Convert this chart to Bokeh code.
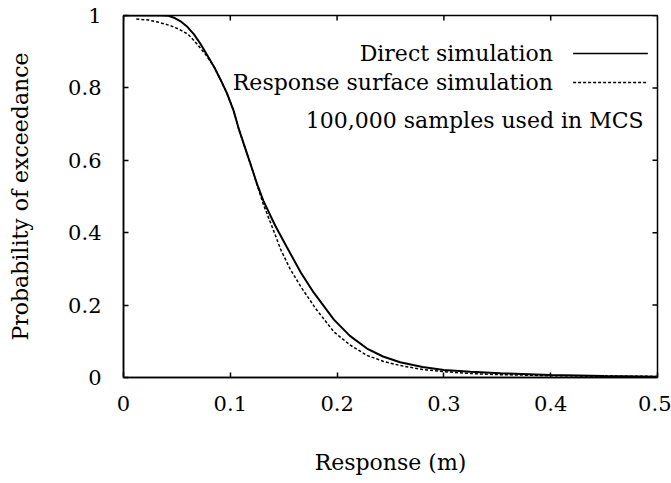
from bokeh.plotting import figure
from bokeh.models import FixedTicker, Label, Arrow, Range1d
from bokeh.embed import file_html
from bokeh.resources import INLINE

# Exceedance probability curves, response in metres
direct_x = [0.0, 0.02, 0.035, 0.042, 0.048, 0.054, 0.06, 0.066, 0.072, 0.078, 0.085,
            0.091, 0.097, 0.103, 0.108, 0.114, 0.12, 0.125, 0.131, 0.142, 0.153,
            0.166, 0.178, 0.197, 0.212, 0.228, 0.243, 0.259, 0.28, 0.3, 0.325,
            0.353, 0.4, 0.45, 0.5]
direct_p = [1.0, 1.0, 1.0, 0.999, 0.993, 0.983, 0.968, 0.948, 0.922, 0.892, 0.857,
            0.822, 0.784, 0.738, 0.686, 0.633, 0.58, 0.535, 0.488, 0.42, 0.36,
            0.29, 0.235, 0.16, 0.115, 0.08, 0.058, 0.042, 0.029, 0.021, 0.016,
            0.012, 0.007, 0.004, 0.002]

surface_x = [0.012, 0.022, 0.032, 0.044, 0.052, 0.06, 0.066, 0.072, 0.078, 0.085,
             0.091, 0.097, 0.103, 0.108, 0.114, 0.12, 0.125, 0.131, 0.14, 0.147,
             0.156, 0.166, 0.18, 0.192, 0.197, 0.212, 0.228, 0.243, 0.259, 0.28,
             0.3, 0.325, 0.35, 0.4, 0.45, 0.5]
surface_p = [0.99, 0.988, 0.982, 0.972, 0.962, 0.949, 0.931, 0.91, 0.888, 0.857,
             0.822, 0.784, 0.738, 0.686, 0.633, 0.58, 0.533, 0.478, 0.41, 0.355,
             0.3, 0.251, 0.19, 0.145, 0.126, 0.09, 0.061, 0.045, 0.033, 0.022,
             0.016, 0.011, 0.008, 0.005, 0.004, 0.003]

x_ticks = [0.0, 0.1, 0.2, 0.3, 0.4, 0.5]
x_tick_labels = ["0", "0.1", "0.2", "0.3", "0.4", "0.5"]
y_ticks = [0.0, 0.2, 0.4, 0.6, 0.8, 1.0]
y_tick_labels = ["0", "0.2", "0.4", "0.6", "0.8", "1"]

FONT = "DejaVu Serif"
TICK_FS = "21px"
FS = "22px"

x_lo, x_hi = 0.0, 0.5
y_lo, y_hi = 0.0, 1.0

p = figure(width=671, height=483, output_backend="svg", toolbar_location=None,
           x_range=Range1d(x_lo, x_hi), y_range=Range1d(y_lo, y_hi),
           min_border_left=123, min_border_right=14, min_border_top=15,
           min_border_bottom=106)
p.grid.visible = False
p.outline_line_color = "black"
p.outline_line_width = 1.5
p.background_fill_color = "white"
p.border_fill_color = "white"

p.line(direct_x, direct_p, line_color="black", line_width=2)
p.line(surface_x, surface_p, line_color="black", line_width=1.5, line_dash="3 2")

for ax, ticks, labels in ((p.xaxis[0], x_ticks, x_tick_labels), (p.yaxis[0], y_ticks, y_tick_labels)):
    ax.ticker = FixedTicker(ticks=ticks)
    ax.major_label_overrides = {t: s for t, s in zip(ticks, labels)}
    ax.major_tick_in = 5
    ax.major_tick_out = 0
    ax.major_tick_line_width = 1.5
    ax.minor_tick_line_color = None
    ax.axis_line_width = 1.5
    ax.major_label_text_font = FONT
    ax.major_label_text_font_size = TICK_FS
    ax.major_label_text_color = "black"
    ax.axis_label_text_font = FONT
    ax.axis_label_text_font_size = FS
    ax.axis_label_text_font_style = "normal"
    ax.axis_label_text_color = "black"

p.xaxis.axis_label = "Response (m)"
p.yaxis.axis_label = "Probability of exceedance"
p.xaxis.major_label_standoff = 18
p.yaxis.major_label_standoff = 22
p.xaxis.axis_label_standoff = 36
p.yaxis.axis_label_standoff = 32

# mirrored inner ticks along the top and right edges of the frame
tick_dy = 0.014 * (y_hi - y_lo)
tick_dx = 0.0047 * (x_hi - x_lo) * 2
p.segment(x0=x_ticks, y0=[y_hi] * len(x_ticks), x1=x_ticks,
          y1=[y_hi - tick_dy] * len(x_ticks), line_color="black", line_width=1.5)
p.segment(x0=[x_hi] * len(y_ticks), y0=y_ticks, x1=[x_hi - tick_dx] * len(y_ticks),
          y1=y_ticks, line_color="black", line_width=1.5)

# key, text left of its line sample
key_texts = ["Direct simulation", "Response surface simulation"]
key_y = [0.895, 0.815]
key_dash = ["solid", "3 2"]
for txt, yy, dash in zip(key_texts, key_y, key_dash):
    p.add_layout(Label(x=0.402, y=yy, text=txt, text_align="right", text_baseline="middle",
                       text_font=FONT, text_font_size=FS, text_color="black"))
    p.add_layout(Arrow(end=None, x_start=0.421, y_start=yy, x_end=0.491, y_end=yy,
                       line_color="black", line_width=1.5, line_dash=dash))
p.add_layout(Label(x=0.487, y=0.71, text="100,000 samples used in MCS", text_align="right",
                   text_baseline="middle", text_font=FONT, text_font_size=FS,
                   text_color="black"))

open("out.html", "w").write(file_html(p, INLINE))
